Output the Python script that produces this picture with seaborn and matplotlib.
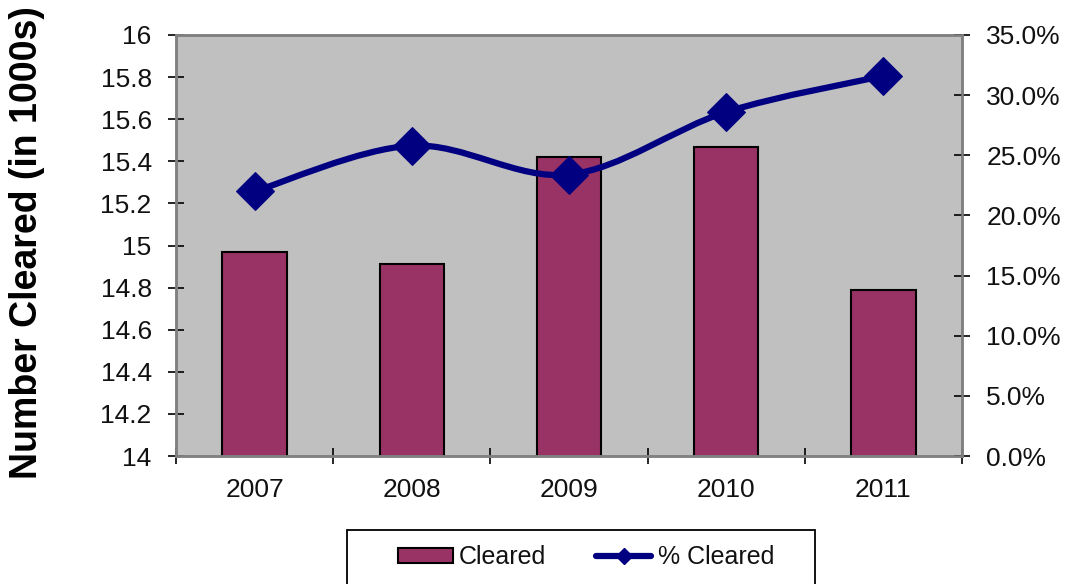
import numpy as np
import matplotlib
matplotlib.use("Agg")
import matplotlib.pyplot as plt
from matplotlib.path import Path
from matplotlib.patches import PathPatch, Patch, Rectangle
from matplotlib.lines import Line2D
from matplotlib.ticker import FixedLocator, FuncFormatter
import seaborn as sns

# Data
years = ["2007", "2008", "2009", "2010", "2011"]
cleared = [14.97, 14.91, 15.42, 15.47, 14.79]          # thousands
pct_cleared = [22.0, 25.8, 23.4, 28.6, 31.6]           # percent

bar_color = "#993366"
line_color = "#000080"
plot_bg = "#C0C0C0"
frame_gray = "#808080"
text_color = "#111111"

sns.set_theme(style="white")
plt.rcParams["font.family"] = ["Liberation Sans", "DejaVu Sans"]

W, H = 1066, 584
fig = plt.figure(figsize=(W / 100, H / 100), dpi=100)
ax = fig.add_axes([176 / W, 128 / H, 786 / W, 421 / H])
ax.set_facecolor(plot_bg)

# Bars: number cleared
sns.barplot(x=years, y=cleared, color=bar_color, saturation=1, width=0.41,
            edgecolor="black", linewidth=1.5, ax=ax, zorder=2)
ax.set_xlim(-0.5, len(years) - 0.5)
ax.set_ylim(14, 16)
left_ticks = np.round(np.arange(14, 16.01, 0.2), 1)
ax.yaxis.set_major_locator(FixedLocator(left_ticks))
ax.yaxis.set_major_formatter(FuncFormatter(lambda v, p: f"{round(v, 1):g}"))
ax.set_ylabel("Number Cleared (in 1000s)", fontsize=27, fontweight="bold",
              color="black", va="center")
ax.yaxis.set_label_coords(-0.189, 0.507)
ax.set_xlabel("")

ax.tick_params(axis="y", direction="inout", length=11, width=1.2, color="black",
               labelsize=19, pad=12, left=True, labelcolor=text_color)
ax.set_xticks(range(len(years)))
ax.set_xticklabels(years)
ax.set_xticks(np.arange(-0.5, len(years), 1.0), minor=True)
ax.tick_params(axis="x", which="major", length=0, labelsize=19, pad=16,
               labelcolor=text_color)
ax.tick_params(axis="x", which="minor", direction="inout", length=11, width=1.2,
               color="black", bottom=True)

# Line: percent cleared on the secondary axis
ax2 = ax.twinx()
ax2.set_ylim(0, 35)
xs = np.arange(len(years), dtype=float)
pts = np.column_stack([xs, pct_cleared])

# Smoothed connecting curve (cubic Bezier through each point)
ext = np.vstack([pts[0], pts, pts[-1]])
verts = [tuple(pts[0])]
codes = [Path.MOVETO]
for i in range(len(pts) - 1):
    p0, p1, p2, p3 = ext[i], ext[i + 1], ext[i + 2], ext[i + 3]
    c1 = p1 + (p2 - p0) / 6.0
    c2 = p2 - (p3 - p1) / 6.0
    verts += [tuple(c1), tuple(c2), tuple(p2)]
    codes += [Path.CURVE4] * 3
curve = PathPatch(Path(verts, codes), facecolor="none", edgecolor=line_color,
                  linewidth=4.5, capstyle="round", joinstyle="round",
                  transform=ax2.transData, zorder=3)
ax2.add_patch(curve)
sns.lineplot(x=xs, y=pct_cleared, ax=ax2, linestyle="", marker="D",
             markersize=19, color=line_color, markeredgecolor=line_color,
             zorder=4)

ax2.yaxis.set_major_locator(FixedLocator(np.arange(0, 35.01, 5)))
ax2.yaxis.set_major_formatter(FuncFormatter(lambda v, p: f"{v:.1f}%"))
ax2.tick_params(axis="y", direction="inout", length=11, width=1.2, color="black",
                labelsize=19, pad=12, right=True, labelcolor=text_color)
ax2.set_ylabel("")
ax2.grid(False)
ax.grid(False)

for a in (ax, ax2):
    for s in a.spines.values():
        s.set_color(frame_gray)
        s.set_linewidth(1.8)

# Legend box (runs off the bottom edge of the figure)
fig.patches.append(Rectangle((347 / W, -20 / H), 468 / W, (54 + 20) / H,
                             transform=fig.transFigure, facecolor="white",
                             edgecolor="black", linewidth=1.3))
handles = [
    Patch(facecolor=bar_color, edgecolor="black", linewidth=1.5, label="Cleared"),
    Line2D([], [], color=line_color, linewidth=4.5, marker="D", markersize=8,
           label="% Cleared"),
]
leg = fig.legend(handles=handles, loc="center", ncol=2,
                 bbox_to_anchor=(586 / W, 1 - 557 / H), frameon=False,
                 fontsize=18, handlelength=2.2, handleheight=0.55,
                 handletextpad=0.25, columnspacing=2.0, borderpad=0,
                 borderaxespad=0)
for t in leg.get_texts():
    t.set_color(text_color)

fig.savefig("out.png", dpi=100)
